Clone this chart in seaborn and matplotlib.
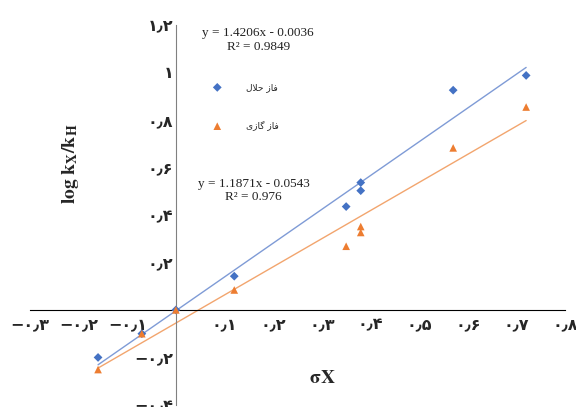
import numpy as np
import pandas as pd
import seaborn as sns
import matplotlib.pyplot as plt

# substituent constants and rate ratios
sigma = [-0.16, -0.07, 0.0, 0.12, 0.35, 0.38, 0.38, 0.57, 0.72]
log_solvent = [-0.20, -0.10, 0.0, 0.142, 0.435, 0.502, 0.536, 0.925, 0.987]
log_gas = [-0.251, -0.10, 0.0, 0.084, 0.268, 0.326, 0.351, 0.682, 0.854]

# Persian labels, written in visual (presentation-form) order
phase_names = ["\uFEDD\uFEFC\uFEA3 \uFEAF\uFE8E\uFED3",          # فاز حلال
               "\uFBFC\uFEAF\uFE8E\uFB94 \uFEAF\uFE8E\uFED3"]    # فاز گازی
equations = ["y = 1.4206x - 0.0036\nR\u00b2 = 0.9849",
             "y = 1.1871x - 0.0543\nR\u00b2 = 0.976"]

x_ticks = [-0.3, -0.2, -0.1, 0.1, 0.2, 0.3, 0.4, 0.5, 0.6, 0.7, 0.8]
x_tick_labels = ["\u2212\u06f0\u066b\u06f3", "\u2212\u06f0\u066b\u06f2", "\u2212\u06f0\u066b\u06f1",
                 "\u06f0\u066b\u06f1", "\u06f0\u066b\u06f2", "\u06f0\u066b\u06f3",
                 "\u06f0\u066b\u06f4", "\u06f0\u066b\u06f5", "\u06f0\u066b\u06f6",
                 "\u06f0\u066b\u06f7", "\u06f0\u066b\u06f8"]
y_ticks = [-0.4, -0.2, 0.2, 0.4, 0.6, 0.8, 1.0, 1.2]
y_tick_labels = ["\u2212\u06f0\u066b\u06f4", "\u2212\u06f0\u066b\u06f2", "\u06f0\u066b\u06f2",
                 "\u06f0\u066b\u06f4", "\u06f0\u066b\u06f6", "\u06f0\u066b\u06f8",
                 "\u06f1", "\u06f1\u066b\u06f2"]

colors = ["#4472C4", "#ED7D31"]
line_colors = ["#7F9BD6", "#F2A56E"]
markers = ["D", "^"]
marker_sizes = [20, 30]

df = pd.DataFrame({
    "sigma": sigma * 2,
    "log_ratio": log_solvent + log_gas,
    "phase": [phase_names[0]] * len(sigma) + [phase_names[1]] * len(sigma),
})

sns.set_style("white")
plt.rcParams["font.family"] = ["DejaVu Sans"]
plt.rcParams["mathtext.fontset"] = "stix"

fig = plt.figure(figsize=(5.76, 4.07), dpi=100)
ax = fig.add_axes([0.052, 0.005, 0.929, 0.934])

for i, name in enumerate(phase_names):
    sub = df[df["phase"] == name]
    sns.regplot(data=sub, x="sigma", y="log_ratio", ax=ax, ci=None, scatter=False,
                truncate=True, line_kws={"color": line_colors[i], "lw": 1.0})
for i, name in enumerate(phase_names):
    sub = df[df["phase"] == name]
    sns.scatterplot(data=sub, x="sigma", y="log_ratio", color=colors[i], marker=markers[i],
                    s=marker_sizes[i], edgecolor="none", ax=ax, zorder=3, label=name)

ax.set_xlim(-0.3, 0.8)
ax.set_ylim(-0.4, 1.2)

ax.spines["left"].set_position(("data", 0))
ax.spines["bottom"].set_position(("data", 0))
ax.spines["left"].set_color("#808080")
ax.spines["bottom"].set_color("black")
ax.spines["right"].set_visible(False)
ax.spines["top"].set_visible(False)

ax.set_xticks(x_ticks)
ax.set_xticklabels(x_tick_labels, fontsize=11.5, fontweight="bold")
ax.set_yticks(y_ticks)
ax.set_yticklabels(y_tick_labels, fontsize=11.5, fontweight="bold")
ax.tick_params(axis="x", length=0, pad=5)
ax.tick_params(axis="y", length=0, pad=2)

ax.set_xlabel(r"$\mathbf{\sigma X}$", fontsize=14)
ax.xaxis.set_label_coords(0.546, 0.097)
ax.set_ylabel(r"$\mathbf{log\ k_X/k_H}$", fontsize=14)
ax.yaxis.set_label_coords(0.095, 0.634)

ax.text(0.169, 1.19, equations[0], fontsize=9.5, family="Liberation Serif",
        ha="center", va="top", linespacing=1.15, color="#222222")
ax.text(0.16, 0.556, equations[1], fontsize=9.5, family="Liberation Serif",
        ha="center", va="top", linespacing=1.15, color="#222222")

leg = ax.legend(loc="upper left", bbox_to_anchor=(0.318, 0.869), frameon=False,
                fontsize=6.5, handletextpad=2.2, labelspacing=3.2, handlelength=2.0)

fig.savefig("out.png", dpi=100)
